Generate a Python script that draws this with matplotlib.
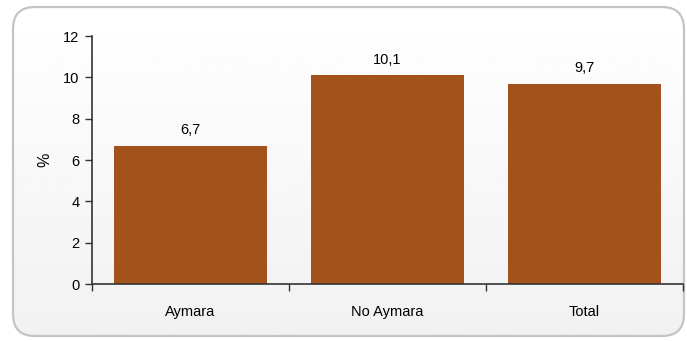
import numpy as np
import matplotlib.pyplot as plt
from matplotlib.patches import FancyBboxPatch

categories = ['Aymara', 'No Aymara', 'Total']
values = [6.7, 10.1, 9.7]
value_labels = ['6,7', '10,1', '9,7']
yticks = [0, 2, 4, 6, 8, 10, 12]

bar_color = '#a3521b'

plt.rcParams['font.family'] = ['Liberation Sans', 'DejaVu Sans']
plt.rcParams['font.size'] = 10.5

fig = plt.figure(figsize=(6.87, 3.41), dpi=100)

# rounded frame with a soft vertical gradient
bg_ax = fig.add_axes([0, 0, 1, 1])
bg_ax.set_xlim(0, 687)
bg_ax.set_ylim(341, 0)
bg_ax.axis('off')
frame = FancyBboxPatch((13, 7), 671, 329, boxstyle='round,pad=0,rounding_size=22',
                       facecolor='none', edgecolor='#c4c4c4', linewidth=1.6)
bg_ax.add_patch(frame)
grad = np.linspace(1.0, 0.945, 256).reshape(-1, 1)
img = bg_ax.imshow(np.repeat(grad, 2, axis=1), cmap='gray', vmin=0, vmax=1,
                   extent=(13, 684, 336, 7), aspect='auto', zorder=0)
img.set_clip_path(frame)

ax = fig.add_axes([92 / 687, 1 - 284 / 341, (683 - 92) / 687, (284 - 36) / 341])
ax.patch.set_alpha(0)

x = np.arange(len(categories))
bars = ax.bar(x, values, width=0.78, color=bar_color, zorder=2)
for xi, v, lab in zip(x, values, value_labels):
    ax.annotate(lab, (xi, v), xytext=(0, 6), textcoords='offset points',
                ha='center', va='bottom')

ax.set_xlim(-0.5, len(categories) - 0.5)
ax.set_ylim(0, 12)
ax.set_yticks(yticks)
ax.set_xticks(x)
ax.set_xticklabels(categories)
ax.set_xticks(np.arange(len(categories) + 1) - 0.5, minor=True)
ax.tick_params(axis='x', which='major', length=0, pad=15)
ax.tick_params(axis='x', which='minor', length=5, width=1, color='#333333')
ax.tick_params(axis='y', length=5, width=1, color='#333333', pad=4)
for side in ['top', 'right']:
    ax.spines[side].set_visible(False)
for side in ['left', 'bottom']:
    ax.spines[side].set_color('#333333')
    ax.spines[side].set_linewidth(1.2)
ax.set_ylabel('%', labelpad=8, fontsize=11.5)

plt.savefig('out.png', dpi=100)
